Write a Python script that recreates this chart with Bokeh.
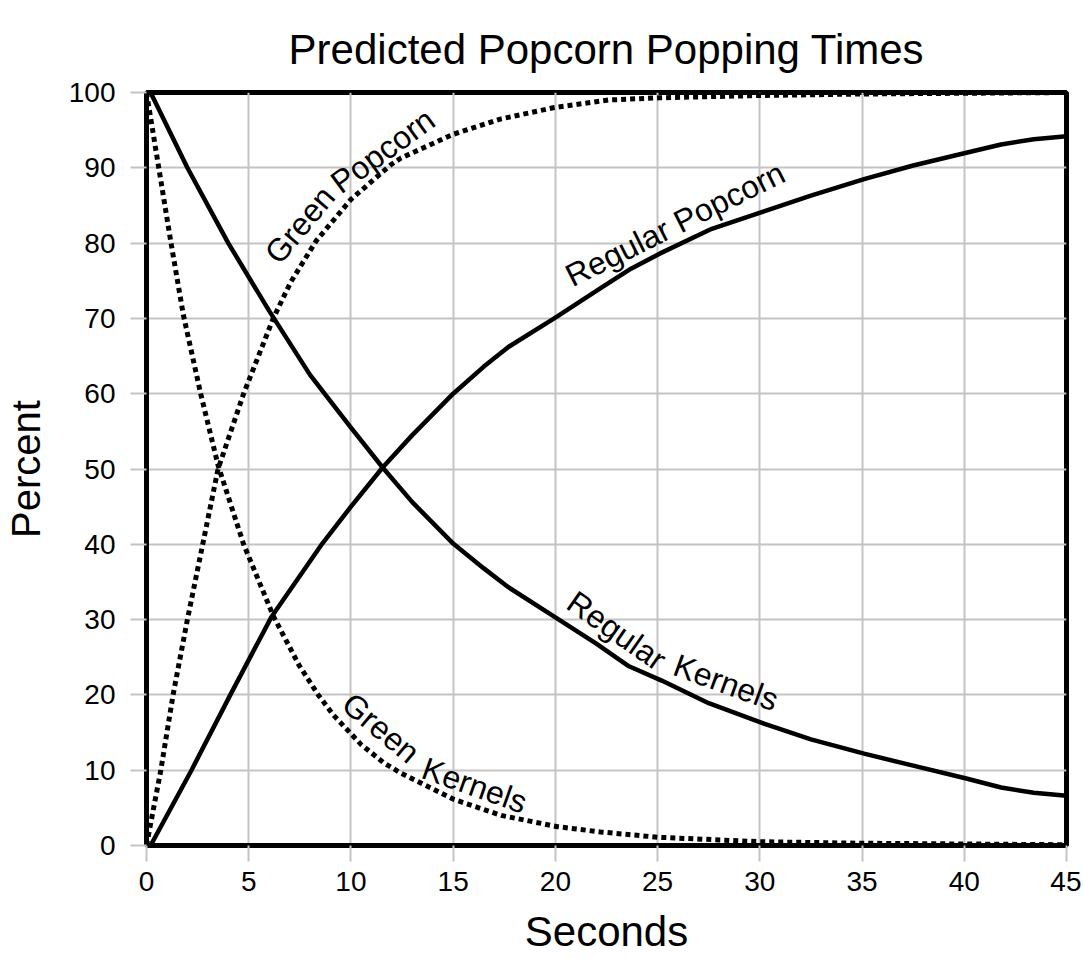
from bokeh.plotting import figure
from bokeh.models import Range1d, SingleIntervalTicker, ColumnDataSource, LinearAxis, FixedTicker
from bokeh.embed import file_html
from bokeh.resources import INLINE
from bokeh.core.properties import value

# ---- data ----
reg_kernels_x = [0.2, 2, 4, 6, 8, 10, 11.55, 13, 15, 16.5, 17.7, 20, 22, 23.6, 25.2, 27.5,
                 30.2, 32.5, 35.1, 37.5, 40.1, 41.8, 43.4, 45]
reg_kernels_y = [100, 90, 80, 71, 62.5, 55.5, 50.2, 45.6, 40.1, 36.8, 34.3, 30.3, 26.8, 23.8, 21.9, 18.9,
                 16.2, 14.1, 12.2, 10.6, 8.9, 7.7, 7.0, 6.6]

reg_popcorn_x = [0.2, 2.2, 4.1, 6.1, 8.6, 10, 11.55, 13, 15, 16.5, 17.7, 20, 22.25, 23.7, 25.1, 27.65,
                 30.2, 32.5, 35.1, 37.5, 40.1, 41.8, 43.4, 45]
reg_popcorn_y = [0, 10, 20, 30.3, 40.1, 45, 50.2, 54.5, 60, 63.6, 66.2, 70.1, 74.1, 76.6, 78.6, 81.9,
                 84.2, 86.3, 88.5, 90.3, 92, 93.1, 93.8, 94.2]

green_kernels_x = [0, 0.3, 0.6, 1.2, 1.8, 2.65, 3.5, 4.75, 6.2, 7.45, 8.4, 9.15, 10.5, 11.6, 12.45,
                   15.05, 17.35, 20.1, 22.2, 25, 30, 35, 40, 45]
green_kernels_y = [100, 95, 90, 80, 70.5, 60, 50.5, 40, 30.5, 24, 20, 17.3, 13.4, 11, 9.6,
                   6.1, 4.0, 2.5, 1.8, 1.1, 0.5, 0.3, 0.2, 0.1]

green_popcorn_x = [0, 0.7, 1.3, 2.0, 2.75, 3.5, 4.75, 6.2, 7.05, 8.3, 10, 11.95, 12.45,
                   14.95, 17.35, 19.95, 22.6, 25.1, 30, 35, 40, 45]
green_popcorn_y = [0, 10, 20, 30, 40, 50, 60, 70, 74.8, 80.3, 85.8, 90.4, 91.3,
                   94.4, 96.5, 98, 99, 99.3, 99.6, 99.8, 99.9, 100]

# curve labels (word, anchor x, anchor y, angle in degrees)
label_text = ["Green", "Popcorn", "Regular Popcorn", "Regular", "Kernels", "Green", "Kernels"]
label_x = [6.1, 9.2, 20.6, 20.75, 25.85, 9.8, 13.55]
label_y = [77.9, 87.6, 75.4, 32.8, 24.1, 19.4, 10.4]
label_angle = [50, 36, 26.5, -35, -20, -40, -19.5]

TITLE = "Predicted Popcorn Popping Times"
X_TITLE = "Seconds"
Y_TITLE = "Percent"

FONT = "Liberation Sans"

p = figure(width=1081, height=958, output_backend="svg", toolbar_location=None,
           x_range=Range1d(0, 45), y_range=Range1d(0, 100),
           min_border_left=146, min_border_right=15, min_border_top=92, min_border_bottom=113)

p.xaxis.ticker = SingleIntervalTicker(interval=5)
p.yaxis.ticker = SingleIntervalTicker(interval=10)
p.xaxis.axis_label = X_TITLE
p.yaxis.axis_label = Y_TITLE
for ax in (p.xaxis, p.yaxis):
    ax.axis_label_text_font = FONT
    ax.axis_label_text_font_style = "normal"
    ax.axis_label_text_color = "black"
    ax.major_label_text_font = FONT
    ax.major_label_text_font_size = "28px"
    ax.major_label_text_color = "black"
    ax.axis_line_color = "black"
    ax.axis_line_width = 5
    ax.major_tick_line_color = "#c4c4c4"
    ax.major_tick_line_width = 2
    ax.major_tick_out = 16
    ax.major_tick_in = 0
    ax.minor_tick_line_color = None
p.xaxis.axis_label_text_font_size = "42px"
p.yaxis.axis_label_text_font_size = "40px"
p.xaxis.major_label_standoff = 10
p.xaxis.axis_label_standoff = 14
p.yaxis.major_label_standoff = 15
p.yaxis.axis_label_standoff = 18

p.xgrid.grid_line_color = "#c4c4c4"
p.ygrid.grid_line_color = "#c4c4c4"
p.xgrid.grid_line_width = 2
p.ygrid.grid_line_width = 2

p.outline_line_color = "black"
p.outline_line_width = 5
p.outline_line_alpha = 1.0

# title carried by a tick-less axis above the frame
top_axis = LinearAxis(ticker=FixedTicker(ticks=[]), axis_label=TITLE,
                      axis_line_color=None, major_tick_line_color=None,
                      minor_tick_line_color=None, major_label_text_font_size="0px",
                      axis_label_text_font=FONT,
                      axis_label_text_font_size="42px", axis_label_text_font_style="normal",
                      axis_label_text_color="black", axis_label_standoff=20)
p.add_layout(top_axis, "above")

p.line(reg_kernels_x, reg_kernels_y, line_color="black", line_width=4.5, line_join="round")
p.line(reg_popcorn_x, reg_popcorn_y, line_color="black", line_width=4.5, line_join="round")
p.line(green_kernels_x, green_kernels_y, line_color="black", line_width=5, line_dash="5 4")
p.line(green_popcorn_x, green_popcorn_y, line_color="black", line_width=5, line_dash="5 4")

src = ColumnDataSource(dict(x=label_x, y=label_y, t=label_text, a=label_angle))
p.text(x="x", y="y", text="t", angle="a", angle_units="deg", source=src,
       text_font=value(FONT), text_font_size="32px", text_color="black",
       text_align="left", text_baseline="alphabetic")

open("out.html", "w").write(file_html(p, INLINE))
